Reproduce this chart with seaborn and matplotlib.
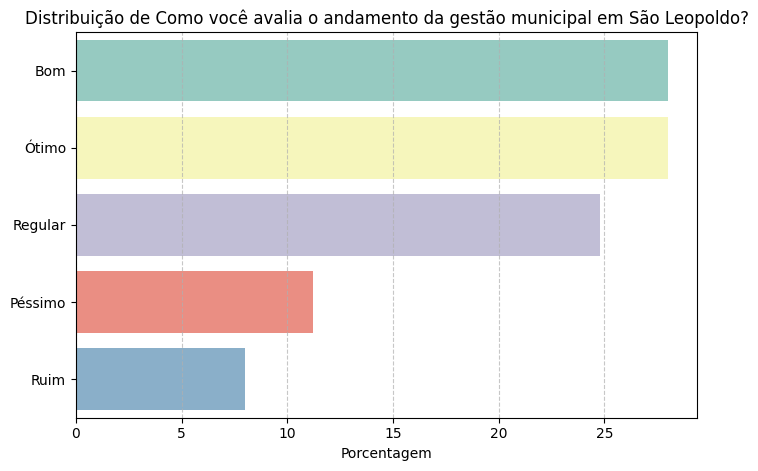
import matplotlib
matplotlib.use("Agg")
import matplotlib.pyplot as plt
import seaborn as sns
import pandas as pd

categories = ["Bom", "Ótimo", "Regular", "Péssimo", "Ruim"]
values = [28.0, 28.0, 24.8, 11.2, 8.0]

df = pd.DataFrame({"cat": categories, "val": values})
fig, ax = plt.subplots(figsize=(7.58, 4.71), dpi=100)
sns.barplot(data=df, y="cat", x="val", hue="cat", palette="Set3", legend=False, ax=ax)
ax.set_title("Distribuição de Como você avalia o andamento da gestão municipal em São Leopoldo?")
ax.set_xlabel("Porcentagem")
ax.set_ylabel("")
ax.grid(axis="x", linestyle="--", alpha=0.7)
fig.subplots_adjust(left=0.1, right=0.92, top=0.932, bottom=0.113)
plt.savefig("out.png", dpi=100)
